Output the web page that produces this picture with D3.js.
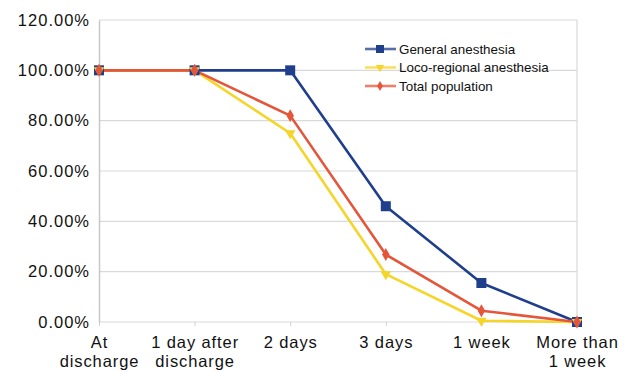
<!DOCTYPE html>
<html><head><meta charset="utf-8">
<script src="https://cdn.jsdelivr.net/npm/d3@7"></script>
<style>body{margin:0;background:#fff}svg{display:block}</style>
</head><body>
<script>
const categories = [["At","discharge"],["1 day after","discharge"],["2 days"],["3 days"],["1 week"],["More than","1 week"]];
const generalAnesthesia = [100, 100, 100, 46, 15.5, 0];
const locoRegional = [100, 100, 75, 19, 0.5, 0];
const totalPopulation = [100, 100, 82, 26.8, 4.5, 0];
const yTicks = [0, 20, 40, 60, 80, 100, 120];
const seriesNames = ["General anesthesia", "Loco-regional anesthesia", "Total population"];

const W = 628, H = 373;
const svg = d3.select("body").append("svg").attr("width", W).attr("height", H);
const font = "Liberation Sans, Arial, sans-serif";

const x = d3.scalePoint().domain(d3.range(categories.length)).range([99, 577]).padding(0);
const y = d3.scaleLinear().domain([0, 120]).range([322, 20]);

// grid
svg.append("g").selectAll("line").data(yTicks).join("line")
  .attr("x1", 99).attr("x2", 577).attr("y1", d => y(d)).attr("y2", d => y(d))
  .attr("stroke", "#d9d9d9").attr("stroke-width", 1.2);
// right border
svg.append("line").attr("x1", 577).attr("x2", 577).attr("y1", y(120)).attr("y2", y(0))
  .attr("stroke", "#d9d9d9").attr("stroke-width", 1.2);

// y axis
const yAxis = d3.axisLeft(y).tickValues(yTicks).tickFormat(d => d.toFixed(2) + "%").tickSize(0).tickPadding(9);
const gy = svg.append("g").attr("transform", "translate(99,0)").call(yAxis);
gy.select(".domain").attr("stroke", "#c8c8c8").attr("stroke-width", 1.5);
gy.selectAll("text").attr("font-family", font).attr("font-size", 16.5).attr("letter-spacing", 1).attr("fill", "#111");

// x axis
const xAxis = d3.axisBottom(x).tickSize(4).tickFormat(() => "");
const gx = svg.append("g").attr("transform", "translate(0,322)").call(xAxis);
gx.select(".domain").remove();
gx.selectAll(".tick line").attr("stroke", "#d0d0d0");
gx.selectAll(".tick").each(function(d) {
  const t = d3.select(this).append("text").attr("text-anchor", "middle")
    .attr("font-family", font).attr("font-size", 16.5).attr("letter-spacing", 0.9).attr("fill", "#111");
  categories[d].forEach((s, i) => t.append("tspan").attr("x", 0).attr("y", 26 + i * 19).text(s));
});

const series = [
  {name: seriesNames[0], values: generalAnesthesia, color: "#1f3f8c", marker: "square"},
  {name: seriesNames[1], values: locoRegional, color: "#f6d52a", marker: "tri"},
  {name: seriesNames[2], values: totalPopulation, color: "#e5553a", marker: "diamond"}
];
const line = d3.line().x((d, i) => x(i)).y(d => y(d));
function marker(g, type, color, s) {
  if (type === "square") g.append("rect").attr("x", -s/2).attr("y", -s/2).attr("width", s).attr("height", s).attr("fill", color);
  else if (type === "tri") g.append("path").attr("d", d3.symbol(d3.symbolTriangle, s*s*0.6)()).attr("transform", "rotate(180)").attr("fill", color);
  else g.append("path").attr("d", d3.symbol(d3.symbolDiamond, s*s*0.6)()).attr("fill", color);
}
series.forEach(s => {
  svg.append("path").datum(s.values).attr("d", line).attr("fill", "none")
    .attr("stroke", s.color).attr("stroke-width", 2.6).attr("stroke-linejoin", "round");
});
series.forEach(s => {
  s.values.forEach((v, i) => {
    const g = svg.append("g").attr("transform", `translate(${x(i)},${y(v)})`);
    marker(g, s.marker, s.color, s.marker === "square" ? 10 : 9);
  });
});

// legend
const lg = svg.append("g").attr("transform", "translate(365,49)");
series.forEach((s, i) => {
  const r = lg.append("g").attr("transform", `translate(0,${i * 18.5})`);
  r.append("line").attr("x1", 0).attr("x2", 31).attr("stroke", s.color).attr("stroke-width", 2.6).attr("stroke-opacity", 0.75);
  const m = r.append("g").attr("transform", "translate(15,0)");
  marker(m, s.marker, s.color, s.marker === "square" ? 8 : 7);
  r.append("text").attr("x", 34).attr("y", 4.5).attr("font-family", font).attr("font-size", 13.4).attr("fill", "#111").text(s.name);
});
</script>
</body></html>
